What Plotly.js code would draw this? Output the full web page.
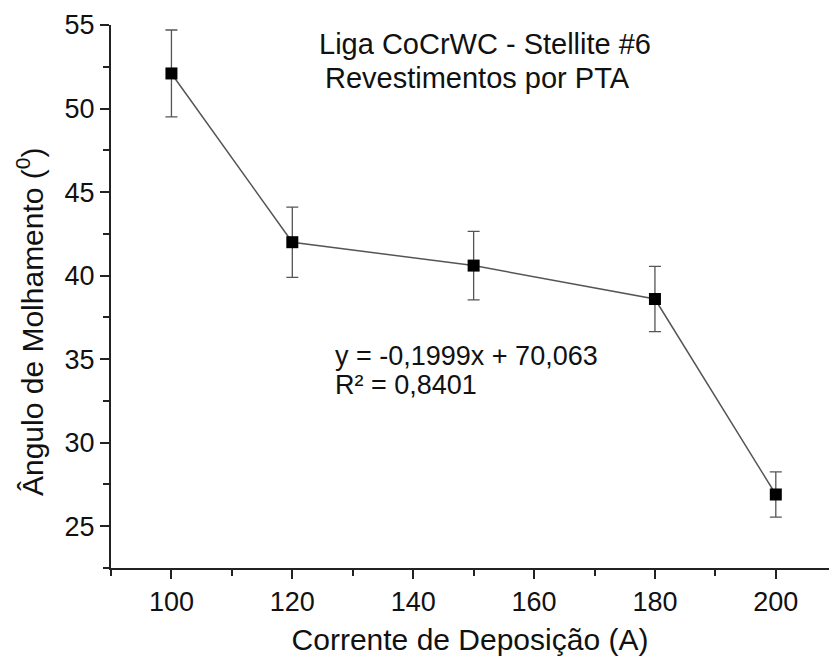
<!DOCTYPE html>
<html>
<head>
<meta charset="utf-8">
<script src="https://cdn.plot.ly/plotly-3.0.1.min.js"></script>
<style>html,body{margin:0;padding:0;background:#fff;overflow:hidden}</style>
</head>
<body>
<div id="chart" style="width:829px;height:664px"></div>
<script>
const corrente = [100, 120, 150, 180, 200];
const angulo = [52.1, 42.0, 40.6, 38.6, 26.9];
const erro = [2.6, 2.1, 2.05, 1.95, 1.35];
const xTickVals = [100, 120, 140, 160, 180, 200];
const yTickVals = [25, 30, 35, 40, 45, 50, 55];
const tituloLinhas = ["Liga CoCrWC - Stellite #6", "Revestimentos por PTA"];
const equacaoLinhas = ["y = -0,1999x + 70,063", "R² = 0,8401"];
const xTitulo = "Corrente de Deposição (A)";
const yTitulo = "Ângulo de Molhamento (<sup>0</sup>)";

const font = "Liberation Sans, Arial, sans-serif";
const ink = "#111";

const trace = {
  x: corrente, y: angulo, type: "scatter", mode: "lines+markers",
  line: {color: "#555", width: 1.5},
  marker: {symbol: "square", size: 12, color: "#000"},
  error_y: {type: "data", array: erro, visible: true, color: "#555", thickness: 1.3, width: 6},
  showlegend: false, hoverinfo: "skip"
};

const layout = {
  width: 829, height: 664,
  margin: {l: 111, r: 0, t: 25, b: 96, pad: 0},
  paper_bgcolor: "#fff", plot_bgcolor: "#fff",
  font: {family: font, color: ink, size: 24},
  xaxis: {
    range: [90, 208.8], showgrid: false, zeroline: false,
    showline: true, linecolor: "#222", linewidth: 2,
    ticks: "outside", ticklen: 9, tickwidth: 2, tickcolor: "#222",
    tickvals: xTickVals, ticktext: xTickVals.map(String),
    tickfont: {size: 27, family: font, color: ink},
    minor: {dtick: 10, tick0: 90, ticks: "outside", ticklen: 6, tickwidth: 2, tickcolor: "#222", showgrid: false},
    title: {text: xTitulo, font: {size: 30, family: font, color: ink}, standoff: 13},
    automargin: false, fixedrange: true
  },
  yaxis: {
    range: [22.5, 55], showgrid: false, zeroline: false,
    showline: true, linecolor: "#222", linewidth: 2,
    ticks: "outside", ticklen: 9, tickwidth: 2, tickcolor: "#222",
    tickvals: yTickVals, ticktext: yTickVals.map(String),
    tickfont: {size: 27, family: font, color: ink},
    minor: {dtick: 2.5, tick0: 22.5, ticks: "outside", ticklen: 6, tickwidth: 2, tickcolor: "#222", showgrid: false},
    automargin: false, fixedrange: true
  },
  annotations: [
    {x: -0.1128, y: 0.453, xref: "paper", yref: "paper", text: yTitulo, textangle: -90, showarrow: false, xanchor: "center", yanchor: "middle", font: {size: 30, family: font, color: ink}},
    {x: 151.9, y: 53.85, xref: "x", yref: "y", text: tituloLinhas[0], showarrow: false, xanchor: "center", yanchor: "middle", font: {size: 29, family: font, color: ink}},
    {x: 150.6, y: 51.85, xref: "x", yref: "y", text: tituloLinhas[1], showarrow: false, xanchor: "center", yanchor: "middle", font: {size: 29, family: font, color: ink}},
    {x: 126.75, y: 35.2, xref: "x", yref: "y", text: equacaoLinhas[0], showarrow: false, xanchor: "left", yanchor: "middle", font: {size: 27, family: font, color: ink}},
    {x: 126.75, y: 33.45, xref: "x", yref: "y", text: equacaoLinhas[1], showarrow: false, xanchor: "left", yanchor: "middle", font: {size: 27, family: font, color: ink}}
  ]
};

Plotly.newPlot("chart", [trace], layout, {staticPlot: true, displayModeBar: false});
</script>
</body>
</html>
